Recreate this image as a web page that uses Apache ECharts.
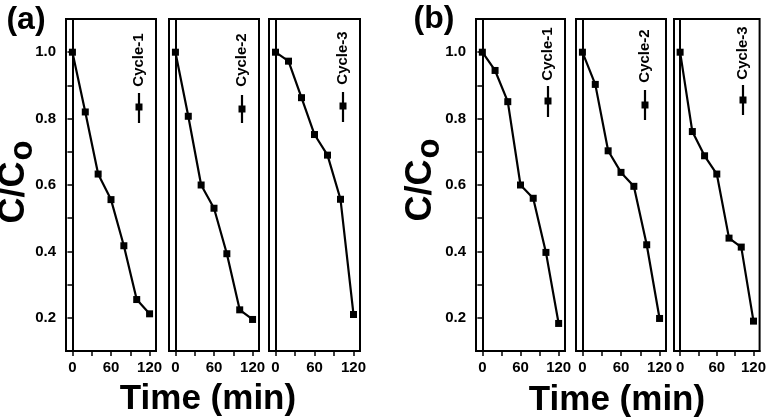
<!DOCTYPE html>
<html><head><meta charset="utf-8">
<script src="https://cdn.jsdelivr.net/npm/echarts@6/dist/echarts.min.js"></script>
<style>html,body{margin:0;padding:0;background:#fff}#c{width:769px;height:418px}</style>
</head><body><div id="c"></div>
<script>
var time = [0, 20, 40, 60, 80, 100, 120];
var a1 = [1.0, 0.82, 0.633, 0.556, 0.417, 0.255, 0.212];
var a2 = [1.0, 0.807, 0.60, 0.53, 0.393, 0.224, 0.195];
var a3 = [1.0, 0.973, 0.863, 0.752, 0.69, 0.557, 0.21];
var b1 = [1.0, 0.945, 0.851, 0.60, 0.56, 0.397, 0.183];
var b2 = [1.0, 0.903, 0.703, 0.638, 0.596, 0.42, 0.198];
var b3 = [1.0, 0.761, 0.688, 0.633, 0.44, 0.413, 0.19];
var cycleNames = ['Cycle-1', 'Cycle-2', 'Cycle-3'];
var xTickLabels = [0, 60, 120];
var xTicks = [0, 30, 60, 90, 120];
var yTickLabels = [0.2, 0.4, 0.6, 0.8, 1.0];
var yTicks = [0.2, 0.3, 0.4, 0.5, 0.6, 0.7, 0.8, 0.9, 1.0];

var FONT = '"Liberation Sans", Arial, sans-serif';
var seriesData = [a1, a2, a3, b1, b2, b3];
var grids = [
  {left: 66, width: 90}, {left: 169, width: 90}, {left: 269, width: 91},
  {left: 476, width: 89}, {left: 576, width: 90}, {left: 674, width: 92}
];
var legendPos = [
  {x: 139, t: 60, l1: 93, l2: 123, s: 107},
  {x: 242, t: 60, l1: 95, l2: 123, s: 109},
  {x: 343, t: 58, l1: 92, l2: 122, s: 106},
  {x: 548, t: 54, l1: 86, l2: 117, s: 101},
  {x: 645, t: 56, l1: 90, l2: 120, s: 105},
  {x: 743, t: 53, l1: 85, l2: 115, s: 100}
];

var option = {
  animation: false,
  backgroundColor: '#fff',
  grid: [], xAxis: [], yAxis: [], series: [], graphic: []
};
grids.forEach(function (g, i) {
  option.grid.push({left: g.left, width: g.width, top: 19, height: 332, show: true,
    borderColor: '#000', borderWidth: 2, backgroundColor: 'transparent'});
  option.xAxis.push({type: 'value', gridIndex: i, min: -10, max: 130,
    axisLine: {show: true, lineStyle: {color: '#000', width: 2}},
    axisTick: {show: true, customValues: xTicks, length: 5, lineStyle: {color: '#000', width: 1.5}},
    axisLabel: {customValues: xTickLabels, color: '#000', fontWeight: 'bold', fontSize: 15, fontFamily: FONT, margin: 9},
    splitLine: {show: false}});
  var first = (i % 3 === 0);
  option.yAxis.push({type: 'value', gridIndex: i, min: 0.1, max: 1.1,
    axisLine: {show: true, lineStyle: {color: '#000', width: 2}},
    axisTick: {show: first, customValues: yTicks, length: 5, lineStyle: {color: '#000', width: 1.5}},
    axisLabel: {show: first, customValues: yTickLabels, color: '#000', fontWeight: 'bold', fontSize: 15, fontFamily: FONT, margin: 10,
      formatter: function (v) { return v.toFixed(1); }},
    splitLine: {show: false}});
  option.series.push({type: 'line', xAxisIndex: i, yAxisIndex: i, name: cycleNames[i % 3],
    data: time.map(function (t, k) { return [t, seriesData[i][k]]; }),
    symbol: 'rect', symbolSize: 7, itemStyle: {color: '#000'},
    lineStyle: {color: '#000', width: 2.2}});
  var lp = legendPos[i];
  option.graphic.push({type: 'text', x: lp.x, y: lp.t, rotation: Math.PI / 2,
    style: {text: cycleNames[i % 3], fill: '#000', font: 'bold 15px ' + FONT, align: 'center', verticalAlign: 'middle'}});
  option.graphic.push({type: 'line', shape: {x1: lp.x, y1: lp.l1, x2: lp.x, y2: lp.l2},
    style: {stroke: '#000', lineWidth: 2.2}});
  option.graphic.push({type: 'rect', shape: {x: lp.x - 3.5, y: lp.s - 3.5, width: 7, height: 7},
    style: {fill: '#000'}});
});
// panel labels
[{t: '(a)', x: 26, y: 20}, {t: '(b)', x: 434, y: 19}].forEach(function (p) {
  option.graphic.push({type: 'text', x: p.x, y: p.y,
    style: {text: p.t, fill: '#000', font: 'bold 32px ' + FONT, align: 'center', verticalAlign: 'middle'}});
});
// y titles
[{x: 18, y: 182}, {x: 425, y: 180}].forEach(function (p) {
  option.graphic.push({type: 'text', x: p.x, y: p.y, rotation: Math.PI / 2,
    style: {text: '{m|C/C}{s|o}', align: 'center', verticalAlign: 'middle',
      rich: {m: {fontSize: 36, fontWeight: 'bold', fontFamily: FONT, fill: '#000', lineHeight: 36, verticalAlign: 'top'},
             s: {fontSize: 33, fontWeight: 'bold', fontFamily: FONT, fill: '#000', padding: [10, 0, 0, 1], verticalAlign: 'top'}}}});
});
// x titles
[{x: 208, y: 399}, {x: 617, y: 400}].forEach(function (p) {
  option.graphic.push({type: 'text', x: p.x, y: p.y,
    style: {text: 'Time (min)', fill: '#000', font: 'bold 35px ' + FONT, align: 'center', verticalAlign: 'middle'}});
});
var chart = echarts.init(document.getElementById('c'), null, {renderer: 'canvas'});
chart.setOption(option);
</script></body></html>
